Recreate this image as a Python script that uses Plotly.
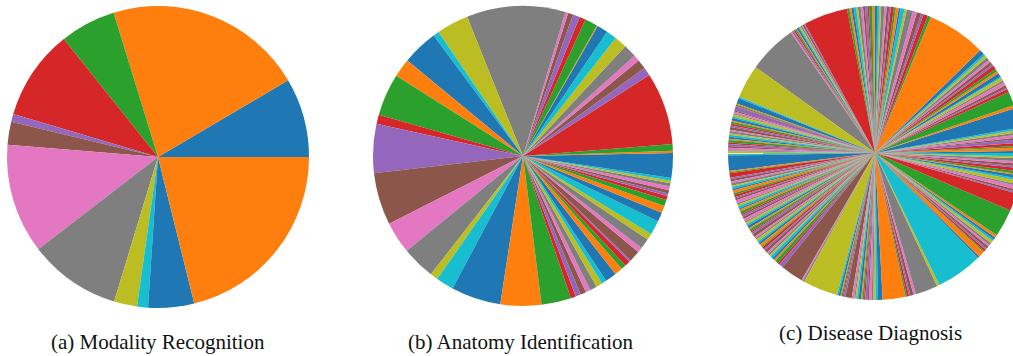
import plotly.graph_objects as go

# tab10 palette, cycled slice by slice
PALETTE = ["#1f77b4", "#ff7f0e", "#2ca02c", "#d62728", "#9467bd",
           "#8c564b", "#e377c2", "#7f7f7f", "#bcbd22", "#17becf"]

# (a) Modality Recognition: share of each modality (degrees of the pie)
modality_share = [30.5, 76.6, 21.5, 34.9, 3.0, 8.8, 42.3, 35.5, 8.9, 4.2, 17.7, 76.1]

# (b) Anatomy Identification: share of each anatomy class
anatomy_share = [
    1.1, 0.9, 2.6, 28.1, 3.2, 3.7, 2.3, 5.1, 4.8, 4.1,
    4.2, 0.4, 4.9, 2.4, 2.7, 2.0, 1.1, 38.3, 12.4, 2.3,
    13.9, 7.2, 16.3, 3.6, 19.0, 20.2, 12.4, 12.9, 3.0, 6.9,
    19.3, 15.8, 11.5, 2.0, 2.0, 2.2, 1.9, 2.7, 2.4, 1.9,
    4.4, 3.1, 1.9, 2.1, 0.7, 4.3, 2.0, 4.0, 2.5, 5.5,
    3.6, 2.7, 2.4, 1.6, 1.0, 1.3, 1.5, 1.2, 1.0, 1.1,
    8.4,
]

# (c) Disease Diagnosis: share of each disease class
disease_share = [
    0.8, 1.4, 0.6, 1.2, 1.5, 0.7, 1.1, 0.9, 1.0, 0.8,
    7.8, 1.2, 5.5,
    1.3, 0.6, 1.0, 1.4, 0.8, 1.2, 0.5, 1.6, 0.9, 1.1, 1.5, 0.7, 1.2, 0.9, 1.3, 1.0, 0.8, 2.0,
    23.4,
    1.2, 1.8, 1.0, 1.7, 1.6, 2.5,
    0.9, 1.6, 0.7, 1.1, 0.8, 1.2, 0.6, 1.0, 0.9, 1.3,
    0.7, 0.8, 1.1, 0.9, 1.2, 0.6, 1.0, 0.8, 0.9, 1.1,
    0.7, 1.0, 0.9, 0.8, 0.9,
    17.5,
    0.4, 0.7, 0.3, 0.6, 0.5, 0.4, 0.8, 0.3, 0.5, 0.6, 0.4, 0.5, 0.5,
    19.3, 13.2,
    0.6, 2.2, 0.4, 0.5, 0.3, 1.6, 0.5, 0.7, 0.4, 0.9,
    0.6, 1.0, 0.5, 0.8, 0.7, 0.6, 1.1, 0.5, 0.9, 0.6,
    0.8, 0.7, 0.5, 1.0, 0.6, 0.8, 0.7, 0.9, 0.5, 0.7, 0.9,
    6.0,
    0.5, 0.4, 1.8, 0.6, 0.9, 0.7, 1.0, 0.5, 0.8,
    0.6, 1.1, 0.7, 0.9, 0.5, 0.8, 1.2, 0.6, 0.7,
    0.9, 0.5, 0.8, 1.0, 0.6, 0.7, 0.9, 1.1, 0.5,
    0.8, 0.7, 1.0, 0.6, 0.9, 0.5, 0.8, 1.2, 0.7,
    0.6, 0.9, 0.7, 0.8, 1.0, 0.5, 0.9, 0.6, 1.1,
    0.7, 0.8, 0.6, 1.0, 0.9, 0.7, 1.3, 0.8, 1.6,
    9.0, 0.5, 0.7, 13.8,
    0.6, 0.8, 0.4, 0.5, 0.4, 0.7, 2.5, 0.9, 0.5, 0.6, 0.7,
    1.0, 0.5, 0.6, 0.5, 0.9, 0.6, 1.0, 0.7, 0.8, 1.0, 1.8,
    9.0,
    0.6, 0.8, 0.6, 1.2, 1.0, 8.8, 1.0,
    18.5,
    0.7, 2.4, 0.5, 0.8, 0.6, 1.0, 0.7, 0.9, 1.1, 0.8, 0.9, 1.1,
    11.0, 7.0,
    0.6, 0.9, 1.4, 0.7, 1.5, 0.8, 1.2, 0.6, 1.0, 1.3, 0.7, 1.1, 0.9, 1.2, 0.8, 1.3,
]

titles = ["(a) Modality Recognition", "(b) Anatomy Identification", "(c) Disease Diagnosis"]

W, H = 1024, 356

# pie boxes in pixels: (left, right, top, bottom)
boxes = [(7, 309, 6, 308), (373, 673, 6, 306), (728, 1022, 6, 300)]
title_pos = [(158, 342), (521, 342), (870, 333)]

fig = go.Figure()
for vals, (l, r, t, b) in zip([modality_share, anatomy_share, disease_share], boxes):
    # counterclockwise pies in plotly put the first slice just clockwise of the
    # rotation line; shift it so the first slice starts at 3 o'clock going up
    first_deg = 360.0 * vals[0] / sum(vals)
    fig.add_trace(go.Pie(
        values=vals,
        labels=[f"class {i}" for i in range(len(vals))],
        marker=dict(colors=[PALETTE[i % 10] for i in range(len(vals))],
                    line=dict(width=0)),
        sort=False,
        direction="counterclockwise",
        rotation=90 - first_deg,
        textinfo="none",
        hoverinfo="label+percent",
        showlegend=False,
        domain=dict(x=[l / W, r / W], y=[1 - b / H, 1 - t / H]),
    ))

for text, (cx, cy) in zip(titles, title_pos):
    fig.add_annotation(
        text=text, x=cx / W, y=1 - cy / H, xref="paper", yref="paper",
        xanchor="center", yanchor="middle", showarrow=False,
        font=dict(family="Liberation Serif", size=21, color="#111111"),
    )

fig.update_layout(
    width=W, height=H,
    margin=dict(l=0, r=0, t=0, b=0),
    paper_bgcolor="white", plot_bgcolor="white",
)

fig.write_html("out.html")
